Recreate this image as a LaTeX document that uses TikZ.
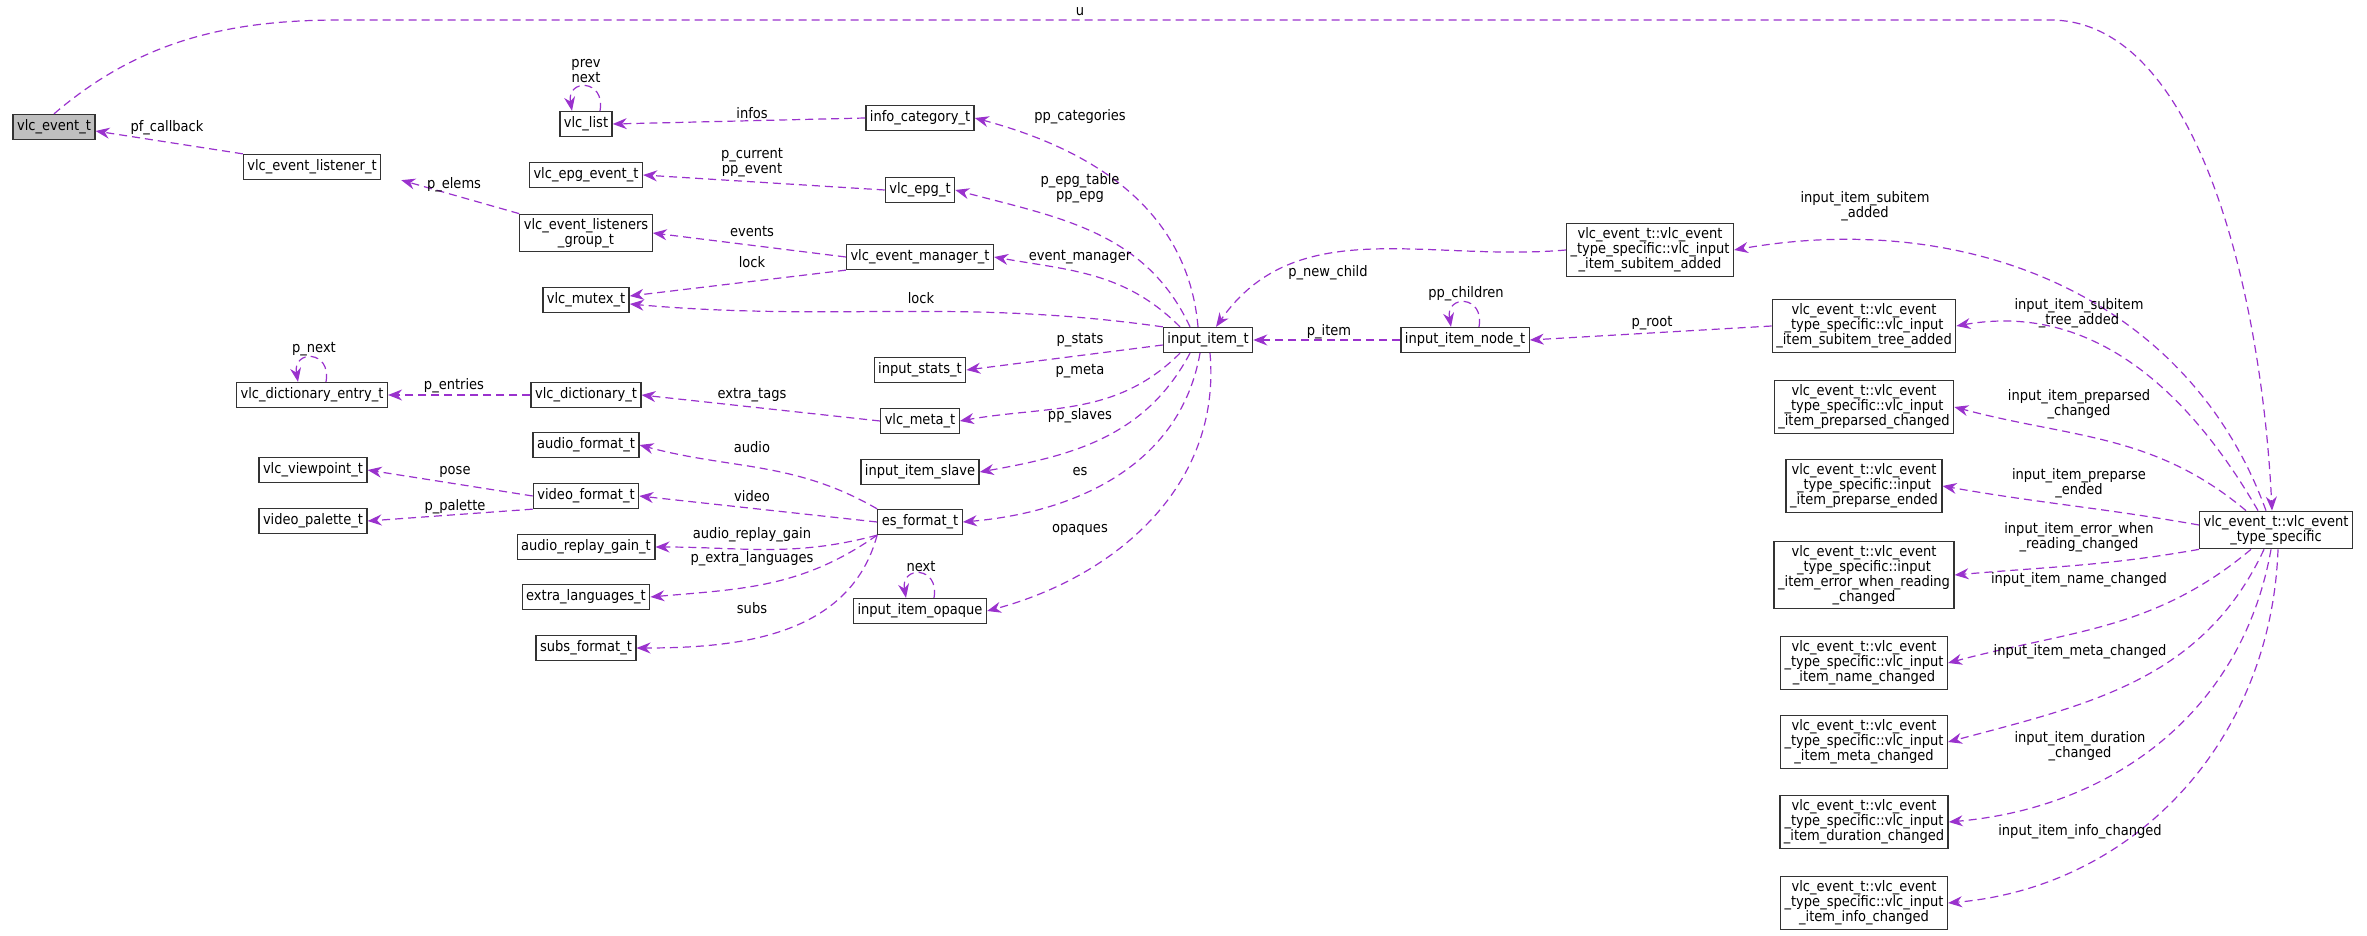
\documentclass[tikz,border=0pt]{standalone}
\usepackage{fontspec}
\setmainfont{DejaVu Sans Condensed}
\usetikzlibrary{arrows.meta}
\definecolor{refpurple}{RGB}{154,50,205}

\tikzset{
  cls/.style={draw=black!80, line width=1.3pt, fill=white, align=center, inner sep=4pt,
    minimum height=25pt, font=\fontsize{14.5}{15}\selectfont},
  ref/.style={draw=refpurple, line width=1.2pt, dash pattern=on 8pt off 5pt,
    -{Stealth[length=14pt,width=11pt]}},
  lbl/.style={align=center, inner sep=0pt, font=\fontsize{14.5}{15}\selectfont}
}

\begin{document}
\begin{tikzpicture}[x=1pt, y=-1pt]
    \useasboundingbox (0,0) rectangle (2367,936);

    % left column
    \node[cls, fill=black!25] (ve) at (54,127) {vlc\_event\_t};
    \node[cls] (vli) at (312,167) {vlc\_event\_listener\_t};
    \node[cls] (dent) at (312,395) {vlc\_dictionary\_entry\_t};
    \node[cls] (vp) at (313,470) {vlc\_viewpoint\_t};
    \node[cls] (pal) at (313,521) {video\_palette\_t};

    % second column
    \node[cls] (lst) at (586,124) {vlc\_list};
    \node[cls] (epe) at (586,175) {vlc\_epg\_event\_t};
    \node[cls] (lgr) at (586,233) {vlc\_event\_listeners\\\_group\_t};
    \node[cls] (mtx) at (586,300) {vlc\_mutex\_t};
    \node[cls] (dct) at (586,395) {vlc\_dictionary\_t};
    \node[cls] (afm) at (586,445) {audio\_format\_t};
    \node[cls] (vfm) at (586,496) {video\_format\_t};
    \node[cls] (arg) at (586,547) {audio\_replay\_gain\_t};
    \node[cls] (xln) at (586,597) {extra\_languages\_t};
    \node[cls] (sfm) at (586,648) {subs\_format\_t};

    % third column
    \node[cls] (icat) at (920,118) {info\_category\_t};
    \node[cls] (epg) at (920,190) {vlc\_epg\_t};
    \node[cls] (emg) at (920,257) {vlc\_event\_manager\_t};
    \node[cls] (sts) at (920,370) {input\_stats\_t};
    \node[cls] (mta) at (920,421) {vlc\_meta\_t};
    \node[cls] (slv) at (920,472) {input\_item\_slave};
    \node[cls] (esf) at (920,522) {es\_format\_t};
    \node[cls] (opq) at (920,611) {input\_item\_opaque};

    % middle
    \node[cls] (ii) at (1208,340) {input\_item\_t};
    \node[cls] (ind) at (1465,340) {input\_item\_node\_t};

    % event classes
    \node[cls] (sad) at (1650,250) {vlc\_event\_t::vlc\_event\\\_type\_specific::vlc\_input\\\_item\_subitem\_added};
    \node[cls] (tad) at (1864,326) {vlc\_event\_t::vlc\_event\\\_type\_specific::vlc\_input\\\_item\_subitem\_tree\_added};
    \node[cls] (ppc) at (1864,407) {vlc\_event\_t::vlc\_event\\\_type\_specific::vlc\_input\\\_item\_preparsed\_changed};
    \node[cls] (ppe) at (1864,486) {vlc\_event\_t::vlc\_event\\\_type\_specific::input\\\_item\_preparse\_ended};
    \node[cls] (err) at (1864,575) {vlc\_event\_t::vlc\_event\\\_type\_specific::input\\\_item\_error\_when\_reading\\\_changed};
    \node[cls] (nmc) at (1864,663) {vlc\_event\_t::vlc\_event\\\_type\_specific::vlc\_input\\\_item\_name\_changed};
    \node[cls] (mtc) at (1864,742) {vlc\_event\_t::vlc\_event\\\_type\_specific::vlc\_input\\\_item\_meta\_changed};
    \node[cls] (duc) at (1864,822) {vlc\_event\_t::vlc\_event\\\_type\_specific::vlc\_input\\\_item\_duration\_changed};
    \node[cls] (ifc) at (1864,903) {vlc\_event\_t::vlc\_event\\\_type\_specific::vlc\_input\\\_item\_info\_changed};
    \node[cls] (ts) at (2276,530) {vlc\_event\_t::vlc\_event\\\_type\_specific};

    % connectors on the left
    \draw[ref] (vli.north west) -- ([yshift=-4pt]ve.east);
    \draw[ref] (lgr.north west) -- ([xshift=20pt]vli.south east);
    \draw[ref] ([xshift=14pt]lst.north) to[out=80,in=100,looseness=3] ([xshift=-14pt]lst.north);
    \draw[ref] (icat.west) -- (lst.east);
    \draw[ref] (epg.west) -- (epe.east);
    \draw[ref] (emg.west) -- (lgr.east);
    \draw[ref] (emg.south west) -- ([yshift=4pt]mtx.east);
    \draw[ref] ([xshift=14pt]dent.north) to[out=80,in=100,looseness=3] ([xshift=-14pt]dent.north);
    \draw[ref] (dct.west) -- (dent.east);
    \draw[ref] (mta.west) -- (dct.east);
    \draw[ref] (vfm.west) -- (vp.east);
    \draw[ref] (vfm.south west) -- (pal.east);

    % es_format_t members
    \draw[ref] (esf.north west) to[out=150,in=-15] (afm.east);
    \draw[ref] (esf.west) -- (vfm.east);
    \draw[ref] (esf.south west) to[out=195,in=0] (arg.east);
    \draw[ref] (esf.south west) to[out=215,in=5] (xln.east);
    \draw[ref] (esf.south west) to[out=-105,in=0] (sfm.east);

    % input_item_t members
    \draw[ref] ([xshift=-10pt]ii.north) to[out=95,in=-15] (icat.east);
    \draw[ref] ([xshift=-18pt]ii.north) to[out=115,in=-15] (epg.east);
    \draw[ref] ([xshift=-28pt]ii.north) to[out=135,in=-10] (emg.east);
    \draw[ref] (ii.north west) to[out=172,in=-5] ([yshift=-4pt]mtx.east);
    \draw[ref] ([yshift=-5pt]ii.west) -- (sts.east);
    \draw[ref] ([xshift=-28pt]ii.south) to[out=-135,in=10] (mta.east);
    \draw[ref] ([xshift=-18pt]ii.south) to[out=-118,in=10] (slv.east);
    \draw[ref] ([xshift=-8pt]ii.south) to[out=-100,in=5] (esf.east);
    \draw[ref] ([xshift=2pt]ii.south) to[out=-85,in=15] (opq.east);
    \draw[ref] ([xshift=14pt]opq.north) to[out=80,in=100,looseness=3] ([xshift=-14pt]opq.north);
    \draw[ref] (sad.west) to[out=185,in=55] ([xshift=8pt]ii.north);
    \draw[ref] (ind.west) -- (ii.east);
    \draw[ref] ([xshift=14pt]ind.north) to[out=80,in=100,looseness=3] ([xshift=-14pt]ind.north);
    \draw[ref] (tad.west) -- (ind.east);

    % event type connectors
    \draw[ref] (ve.north) .. controls (140,40) and (230,20) .. (340,20) -- (2050,20)
        .. controls (2200,20) and (2262,300) .. ([xshift=-4pt]ts.north);
    \draw[ref] ([xshift=-10pt]ts.north) to[out=110,in=10] (sad.east);
    \draw[ref] ([xshift=-18pt]ts.north) to[out=120,in=10] (tad.east);
    \draw[ref] ([xshift=-30pt]ts.north) to[out=140,in=-15] (ppc.east);
    \draw[ref] ([yshift=5pt]ts.west) to[out=170,in=-10] (ppe.east);
    \draw[ref] (ts.south west) to[out=190,in=5] (err.east);
    \draw[ref] ([xshift=-25pt]ts.south) to[out=-140,in=15] (nmc.east);
    \draw[ref] ([xshift=-12pt]ts.south) to[out=-115,in=15] (mtc.east);
    \draw[ref] ([xshift=-5pt]ts.south) to[out=-100,in=5] (duc.east);
    \draw[ref] ([xshift=2pt]ts.south) to[out=-92,in=5] (ifc.east);

    % labels
    \node[lbl] (l-u) at (1080,12) {u};
    \node[lbl] (l-pfc) at (167,128) {pf\_callback};
    \node[lbl] (l-pel) at (454,185) {p\_elems};
    \node[lbl] (l-lst) at (586,71) {prev\\next};
    \node[lbl] (l-inf) at (752,113) {infos};
    \node[lbl] (l-pcur) at (752,163) {p\_current\\pp\_event};
    \node[lbl] (l-evt) at (752,232) {events};
    \node[lbl] (l-lk1) at (752,262) {lock};
    \node[lbl] (l-ppc) at (1080,117) {pp\_categories};
    \node[lbl] (l-epg) at (1080,188) {p\_epg\_table\\pp\_epg};
    \node[lbl] (l-emg) at (1080,257) {event\_manager};
    \node[lbl] (l-lk2) at (921,298) {lock};
    \node[lbl] (l-sts) at (1080,340) {p\_stats};
    \node[lbl] (l-mta) at (1080,371) {p\_meta};
    \node[lbl] (l-slv) at (1080,416) {pp\_slaves};
    \node[lbl] (l-es) at (1080,472) {es};
    \node[lbl] (l-opq) at (1080,530) {opaques};
    \node[lbl] (l-pnx) at (314,349) {p\_next};
    \node[lbl] (l-pen) at (454,386) {p\_entries};
    \node[lbl] (l-xtg) at (752,395) {extra\_tags};
    \node[lbl] (l-aud) at (752,447) {audio};
    \node[lbl] (l-vid) at (752,496) {video};
    \node[lbl] (l-arg) at (752,535) {audio\_replay\_gain};
    \node[lbl] (l-xln) at (752,559) {p\_extra\_languages};
    \node[lbl] (l-sub) at (752,608) {subs};
    \node[lbl] (l-pos) at (455,472) {pose};
    \node[lbl] (l-pal) at (455,507) {p\_palette};
    \node[lbl] (l-nxt) at (921,567) {next};
    \node[lbl] (l-pnc) at (1328,273) {p\_new\_child};
    \node[lbl] (l-pit) at (1329,332) {p\_item};
    \node[lbl] (l-pch) at (1466,294) {pp\_children};
    \node[lbl] (l-prt) at (1652,323) {p\_root};
    \node[lbl] (l-sad) at (1865,206) {input\_item\_subitem\\\_added};
    \node[lbl] (l-tad) at (2079,313) {input\_item\_subitem\\\_tree\_added};
    \node[lbl] (l-ppc2) at (2079,404) {input\_item\_preparsed\\\_changed};
    \node[lbl] (l-ppe) at (2079,483) {input\_item\_preparse\\\_ended};
    \node[lbl] (l-err) at (2079,537) {input\_item\_error\_when\\\_reading\_changed};
    \node[lbl] (l-nmc) at (2079,580) {input\_item\_name\_changed};
    \node[lbl] (l-mtc) at (2080,652) {input\_item\_meta\_changed};
    \node[lbl] (l-duc) at (2080,746) {input\_item\_duration\\\_changed};
    \node[lbl] (l-ifc) at (2080,832) {input\_item\_info\_changed};
\end{tikzpicture}
\end{document}
